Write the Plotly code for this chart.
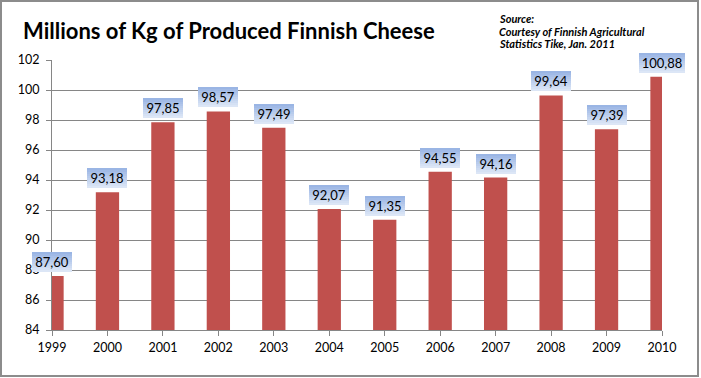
import plotly.graph_objects as go

years = ["1999", "2000", "2001", "2002", "2003", "2004", "2005", "2006", "2007", "2008", "2009", "2010"]
values = [87.60, 93.18, 97.85, 98.57, 97.49, 92.07, 91.35, 94.55, 94.16, 99.64, 97.39, 100.88]
labels = ["87,60", "93,18", "97,85", "98,57", "97,49", "92,07", "91,35", "94,55", "94,16", "99,64", "97,39", "100,88"]
title_text = "Millions of Kg of Produced Finnish Cheese"
source_lines = ["Source:", "Courtesy of Finnish Agricultural", "Statistics Tike, Jan. 2011"]

W, H = 701, 378
ML, MR, MT, MB = 52, 39, 60, 48
PW, PH = W - ML - MR, H - MT - MB
FONT = "Lato"

fig = go.Figure()
fig.add_trace(go.Bar(x=years, y=values, width=0.42,
                     marker=dict(color="#C0504D", line=dict(width=0)),
                     hoverinfo="skip"))

annotations = []
# gradient label boxes (stacked strips), then label text
top = (154, 181, 228)
bot = (220, 230, 246)
N = 10
sh = 2
for i, (v, lab) in enumerate(zip(values, labels)):
    bw = 46 if len(lab) > 5 else 40
    for k in range(N):
        t = k / (N - 1)
        c = tuple(round(bot[j] + (top[j] - bot[j]) * t) for j in range(3))
        annotations.append(dict(x=i, y=v, xref="x", yref="y", text=" ", showarrow=False,
                                xanchor="center", yanchor="bottom", yshift=4 + k * sh,
                                width=bw, height=sh, borderpad=0, borderwidth=0,
                                bgcolor="rgb(%d,%d,%d)" % c, font=dict(size=1)))
    annotations.append(dict(x=i, y=v, xref="x", yref="y", text=lab, showarrow=False,
                            xanchor="center", yanchor="bottom", yshift=4,
                            width=bw, height=N * sh, borderpad=0, borderwidth=0,
                            font=dict(family=FONT, size=13, color="#000000")))

for n, s in enumerate(source_lines):
    annotations.append(dict(xref="paper", yref="paper",
                            x=(497 - ML) / PW, y=(MT + PH - (19 + 12.5 * n)) / PH,
                            xanchor="left", yanchor="middle", align="left", showarrow=False,
                            text="<b><i>%s</i></b>" % s,
                            font=dict(family=FONT, size=11, color="#000000")))

fig.update_layout(
    width=W, height=H,
    margin=dict(l=ML, r=MR, t=MT, b=MB, pad=0),
    paper_bgcolor="white", plot_bgcolor="white",
    showlegend=False,
    title=dict(text="<b>%s</b>" % title_text, x=23 / W, xanchor="left",
               y=1 - 31 / H, yanchor="middle",
               font=dict(family=FONT, size=22, color="#000000")),
    xaxis=dict(type="category", range=[0, 11], showgrid=False,
               showline=True, linecolor="#868686", linewidth=1,
               ticks="outside", ticklen=5, tickcolor="#868686",
               ticklabelstandoff=1,
               tickfont=dict(family=FONT, size=12.5, color="#000000"),
               fixedrange=True),
    yaxis=dict(range=[84, 102], dtick=2, tick0=84,
               showgrid=True, gridcolor="#868686", gridwidth=1,
               showline=True, linecolor="#868686", linewidth=1,
               ticks="outside", ticklen=5, tickcolor="#868686",
               ticklabelstandoff=4,
               tickfont=dict(family=FONT, size=12.5, color="#000000"),
               zeroline=False, fixedrange=True),
    annotations=annotations,
    shapes=[dict(type="rect", xref="paper", yref="paper",
                 x0=(1 - ML) / PW, x1=(698 - ML) / PW,
                 y0=(MT + PH - 376) / PH, y1=(MT + PH - 1) / PH,
                 line=dict(color="#8c8c8c", width=2), fillcolor="rgba(0,0,0,0)")],
)

fig.write_html("out.html", config={"displayModeBar": False},
               post_script="document.body.style.margin='0';document.body.style.padding='0';")
